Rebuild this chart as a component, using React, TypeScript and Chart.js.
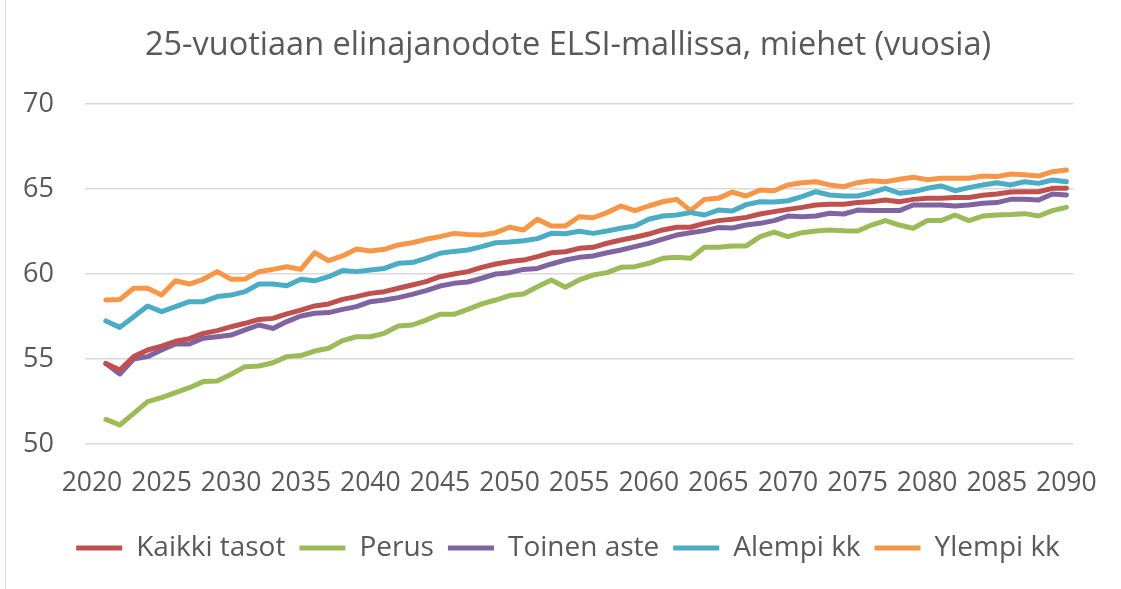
import React, { useEffect, useRef } from "react";
import { Chart, registerables } from "chart.js";

Chart.register(...registerables);

const years: string[] = [];
for (let y = 2020; y <= 2090; y++) years.push(String(y));

const tickYears = ["2020", "2025", "2030", "2035", "2040", "2045", "2050", "2055", "2060", "2065", "2070", "2075", "2080", "2085", "2090"];

// values for 2021..2090 (2020 has no value)
const kaikkiTasot = [
  54.74, 54.35, 55.14, 55.53, 55.76, 56.04, 56.2, 56.51, 56.67, 56.9,
  57.1, 57.33, 57.39, 57.65, 57.88, 58.12, 58.24, 58.51, 58.67, 58.86,
  58.96, 59.16, 59.35, 59.55, 59.84, 60.0, 60.14, 60.39, 60.59, 60.73,
  60.82, 61.02, 61.25, 61.31, 61.51, 61.57, 61.81, 62.0, 62.16, 62.35,
  62.59, 62.75, 62.75, 62.98, 63.14, 63.22, 63.33, 63.53, 63.67, 63.8,
  63.92, 64.06, 64.1, 64.1, 64.2, 64.25, 64.35, 64.25, 64.39, 64.45,
  64.45, 64.5, 64.5, 64.63, 64.71, 64.82, 64.84, 64.84, 65.04, 65.04,
];

const perus = [
  51.45, 51.12, 51.8, 52.49, 52.73, 53.02, 53.31, 53.67, 53.7, 54.1,
  54.55, 54.59, 54.78, 55.14, 55.2, 55.47, 55.63, 56.08, 56.31, 56.31,
  56.51, 56.94, 57.0, 57.29, 57.63, 57.63, 57.92, 58.24, 58.47, 58.73,
  58.82, 59.25, 59.65, 59.22, 59.65, 59.94, 60.08, 60.39, 60.43, 60.63,
  60.92, 60.98, 60.92, 61.57, 61.57, 61.65, 61.65, 62.2, 62.47, 62.2,
  62.43, 62.53, 62.59, 62.55, 62.53, 62.88, 63.14, 62.88, 62.69, 63.14,
  63.14, 63.47, 63.14, 63.41, 63.47, 63.5, 63.55, 63.41, 63.73, 63.92,
];

const toinenAste = [
  54.74, 54.12, 55.0, 55.14, 55.53, 55.88, 55.88, 56.22, 56.31, 56.41,
  56.71, 57.0, 56.8, 57.2, 57.53, 57.69, 57.73, 57.92, 58.08, 58.37,
  58.47, 58.61, 58.8, 59.02, 59.29, 59.45, 59.53, 59.75, 60.0, 60.08,
  60.27, 60.33, 60.59, 60.82, 60.98, 61.06, 61.25, 61.41, 61.61, 61.8,
  62.05, 62.29, 62.43, 62.55, 62.73, 62.71, 62.88, 62.98, 63.14, 63.41,
  63.37, 63.41, 63.57, 63.53, 63.76, 63.73, 63.73, 63.73, 64.06, 64.06,
  64.06, 64.0, 64.06, 64.16, 64.2, 64.39, 64.39, 64.35, 64.71, 64.65,
];

const alempiKk = [
  57.24, 56.86, 57.49, 58.12, 57.79, 58.08, 58.37, 58.37, 58.67, 58.76,
  58.96, 59.41, 59.41, 59.31, 59.69, 59.6, 59.84, 60.2, 60.14, 60.24,
  60.33, 60.63, 60.67, 60.92, 61.22, 61.33, 61.41, 61.61, 61.84, 61.88,
  61.96, 62.08, 62.39, 62.37, 62.51, 62.39, 62.53, 62.69, 62.82, 63.22,
  63.41, 63.47, 63.61, 63.47, 63.76, 63.7, 64.08, 64.25, 64.23, 64.31,
  64.55, 64.84, 64.65, 64.59, 64.59, 64.78, 65.04, 64.75, 64.84, 65.04,
  65.18, 64.9, 65.08, 65.24, 65.37, 65.24, 65.43, 65.33, 65.53, 65.43,
];

const ylempiKk = [
  58.47, 58.5, 59.16, 59.16, 58.76, 59.6, 59.41, 59.69, 60.14, 59.69,
  59.71, 60.14, 60.27, 60.43, 60.27, 61.25, 60.78, 61.06, 61.47, 61.35,
  61.45, 61.71, 61.84, 62.04, 62.2, 62.39, 62.33, 62.29, 62.43, 62.75,
  62.59, 63.22, 62.82, 62.82, 63.37, 63.31, 63.61, 64.0, 63.73, 64.0,
  64.25, 64.39, 63.73, 64.39, 64.45, 64.82, 64.59, 64.94, 64.9, 65.24,
  65.37, 65.43, 65.24, 65.14, 65.37, 65.49, 65.43, 65.57, 65.69, 65.55,
  65.63, 65.63, 65.63, 65.76, 65.73, 65.88, 65.84, 65.76, 66.02, 66.12,
];

const seriesNames = ["Kaikki tasot", "Perus", "Toinen aste", "Alempi kk", "Ylempi kk"];
const seriesColors = ["#C0504D", "#9BBB59", "#8064A2", "#4BACC6", "#F79646"];
const seriesValues = [kaikkiTasot, perus, toinenAste, alempiKk, ylempiKk];

const TEXT = "#595959";
const FONT = "'Open Sans', sans-serif";

export default function App() {
  const ref = useRef<HTMLCanvasElement | null>(null);

  useEffect(() => {
    if (!ref.current) return;
    const chart = new Chart(ref.current, {
      type: "line",
      data: {
        labels: years,
        datasets: seriesValues.map((vals, i) => ({
          label: seriesNames[i],
          data: [null, ...vals],
          borderColor: seriesColors[i],
          backgroundColor: seriesColors[i],
          borderWidth: 5,
          pointRadius: 0,
          pointHoverRadius: 0,
          tension: 0,
          borderCapStyle: "round" as const,
          borderJoinStyle: "round" as const,
          spanGaps: false,
          yAxisID: "y",
        })),
      },
      options: {
        animation: false,
        responsive: false,
        maintainAspectRatio: false,
        layout: { padding: { left: 15, right: 0, top: 0, bottom: 17 } },
        plugins: {
          tooltip: { enabled: false },
          title: {
            display: true,
            text: "25-vuotiaan elinajanodote ELSI-mallissa, miehet (vuosia)",
            color: TEXT,
            font: { family: FONT, size: 32.5, weight: "normal" },
            padding: { top: 26.5, bottom: 38.5 },
          },
          legend: {
            position: "bottom",
            labels: {
              color: TEXT,
              font: { family: FONT, size: 28 },
              boxWidth: 46,
              boxHeight: 5,
              padding: 14,
              generateLabels: (c: any) =>
                c.data.datasets.map((d: any, i: number) => ({
                  text: d.label,
                  fillStyle: d.borderColor,
                  strokeStyle: d.borderColor,
                  lineWidth: 0,
                  fontColor: TEXT,
                  hidden: false,
                  datasetIndex: i,
                })),
            },
          },
        },
        scales: {
          x: {
            type: "category",
            offset: true,
            grid: { display: false, drawTicks: false },
            border: { display: false },
            afterFit: (s: any) => {
              s.height = 76;
            },
            ticks: {
              autoSkip: false,
              maxRotation: 0,
              minRotation: 0,
              padding: 24,
              color: TEXT,
              font: { family: FONT, size: 26.5 },
              callback: function (this: any, value: any) {
                const lab = this.getLabelForValue(value);
                return tickYears.includes(lab) ? lab : "";
              },
            },
          },
          y: {
            min: 50,
            max: 70,
            grid: { color: "#d9d9d9", lineWidth: 1.5, drawTicks: false },
            border: { display: false },
            afterFit: (s: any) => {
              s.width = 70;
            },
            ticks: {
              stepSize: 5,
              padding: 31,
              color: TEXT,
              font: { family: FONT, size: 27 },
            },
          },
          yRight: {
            position: "right",
            display: true,
            grid: { display: false, drawTicks: false },
            border: { display: false },
            ticks: { display: false },
            afterFit: (s: any) => {
              s.width = 47;
            },
          },
        },
      },
    });
    return () => chart.destroy();
  }, []);

  return (
    <div style={{ position: "fixed", left: 0, top: 0, width: 1121, height: 589, background: "#fff" }}>
      <div style={{ position: "absolute", left: 5, top: 0, width: 1, height: 589, background: "#d9d9d9" }} />
      <canvas ref={ref} width={1121} height={589} style={{ display: "block", width: 1121, height: 589 }} />
    </div>
  );
}
